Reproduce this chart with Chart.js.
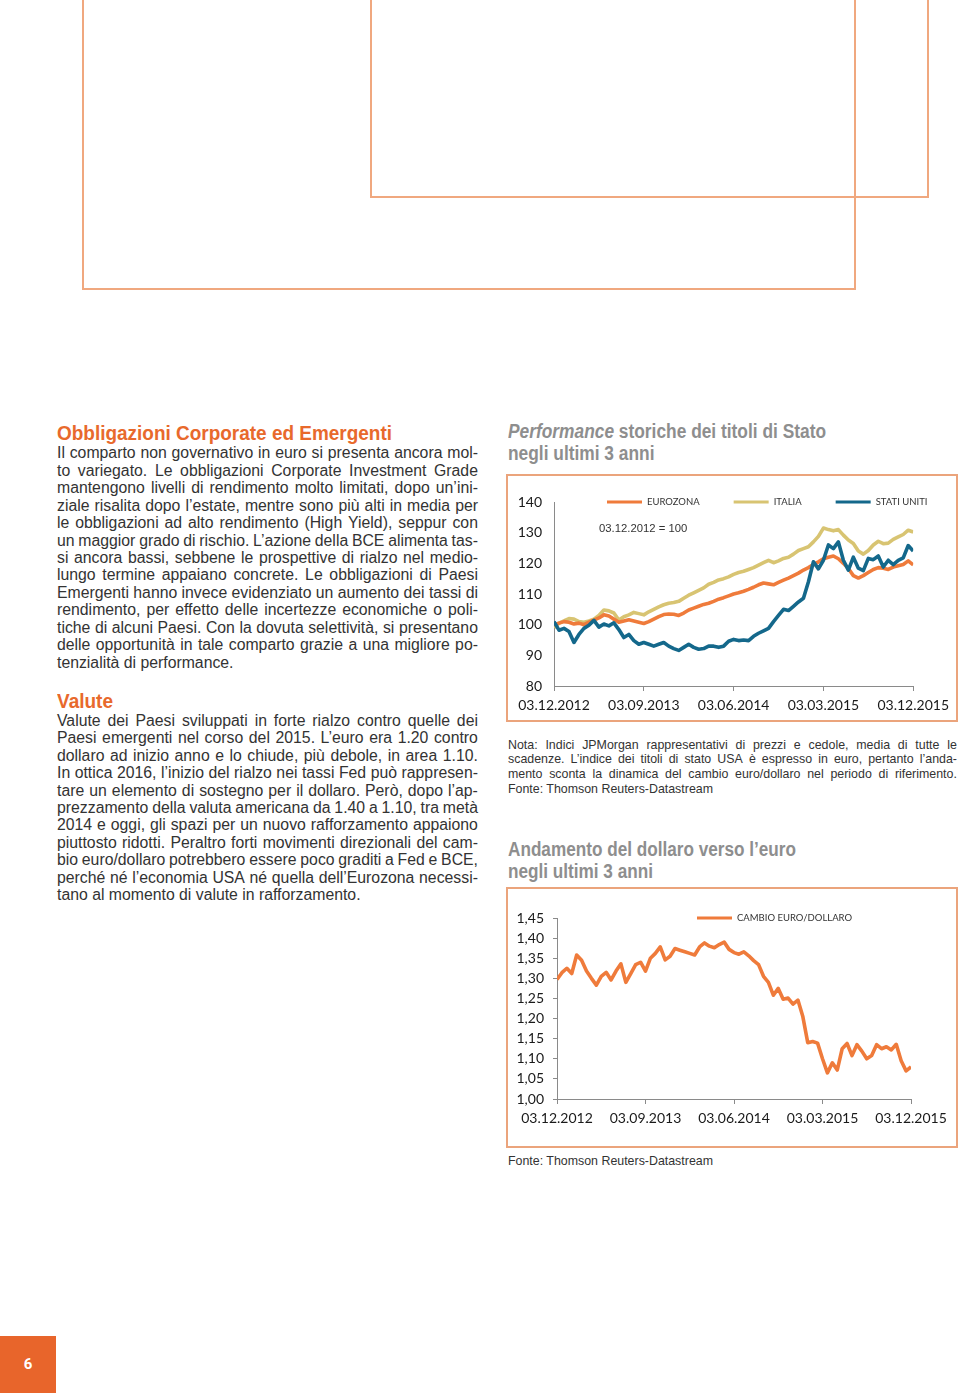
<!DOCTYPE html>
<html lang="it">
<head>
<meta charset="utf-8">
<title>Obbligazioni Corporate ed Emergenti - Valute</title>
<script src="https://cdn.jsdelivr.net/npm/chart.js@4.4.1/dist/chart.umd.min.js"></script>
<style>
  html, body { margin: 0; padding: 0; }
  body {
    width: 960px; height: 1393px; position: relative; overflow: hidden;
    background: #fff; color: #333;
    font-family: "Liberation Sans", Arial, sans-serif;
  }
  .box { position: absolute; border: 2px solid #f0a87f; box-sizing: border-box; }
  .frame { position: absolute; border: 2px solid #eba47c; box-sizing: border-box; }
  .head {
    position: absolute; white-space: nowrap;
    font-family: "Liberation Sans", Arial, sans-serif; font-weight: 700;
    font-size: 19.6px; line-height: 22px;
    transform-origin: 0 50%;
  }
  .orange { color: #e8692c; }
  .gray { color: #8e8e8e; }
  .txt { position: absolute; width: 421px; font-size: 15.8px; line-height: 17.45px; }
  .ln { display: flex; justify-content: space-between; white-space: nowrap; }
  .ln.last { display: block; }
  .note { position: absolute; width: 449px; font-size: 12.4px; line-height: 14.7px; }
  .tag { position: absolute; font-size: 11.3px; color: #333; white-space: nowrap; }
  canvas { position: absolute; }
  .pageno {
    position: absolute; left: 0; top: 1336px; width: 56px; height: 57px;
    background: #e8652b; color: #fff; text-align: center;
    font-family: Roboto, sans-serif; font-weight: 700; font-size: 15px; line-height: 57px;
  }
</style>
</head>
<body>

<div class="box" style="left:82px; top:-10px; width:774px; height:300px;"></div>
<div class="box" style="left:370px; top:-10px; width:559px; height:208px;"></div>

<div class="head orange" data-fit="335" style="left:57px; top:422px;">Obbligazioni Corporate ed Emergenti</div>
<div class="txt" style="left:57px; top:444.3px;">
  <div class="ln">Il comparto non governativo in euro si presenta ancora mol-</div>
  <div class="ln">to variegato. Le obbligazioni Corporate Investment Grade</div>
  <div class="ln">mantengono livelli di rendimento molto limitati, dopo un’ini-</div>
  <div class="ln">ziale risalita dopo l’estate, mentre sono più alti in media per</div>
  <div class="ln">le obbligazioni ad alto rendimento (High Yield), seppur con</div>
  <div class="ln">un maggior grado di rischio. L’azione della BCE alimenta tas-</div>
  <div class="ln">si ancora bassi, sebbene le prospettive di rialzo nel medio-</div>
  <div class="ln">lungo termine appaiano concrete. Le obbligazioni di Paesi</div>
  <div class="ln">Emergenti hanno invece evidenziato un aumento dei tassi di</div>
  <div class="ln">rendimento, per effetto delle incertezze economiche o poli-</div>
  <div class="ln">tiche di alcuni Paesi. Con la dovuta selettività, si presentano</div>
  <div class="ln">delle opportunità in tale comparto grazie a una migliore po-</div>
  <div class="ln last">tenzialità di performance.</div>
</div>

<div class="head orange" data-fit="56" style="left:57px; top:690px;">Valute</div>
<div class="txt" style="left:57px; top:711.7px;">
  <div class="ln">Valute dei Paesi sviluppati in forte rialzo contro quelle dei</div>
  <div class="ln">Paesi emergenti nel corso del 2015. L’euro era 1.20 contro</div>
  <div class="ln">dollaro ad inizio anno e lo chiude, più debole, in area 1.10.</div>
  <div class="ln">In ottica 2016, l’inizio del rialzo nei tassi Fed può rappresen-</div>
  <div class="ln">tare un elemento di sostegno per il dollaro. Però, dopo l’ap-</div>
  <div class="ln">prezzamento della valuta americana da 1.40 a 1.10, tra metà</div>
  <div class="ln">2014 e oggi, gli spazi per un nuovo rafforzamento appaiono</div>
  <div class="ln">piuttosto ridotti. Peraltro forti movimenti direzionali del cam-</div>
  <div class="ln">bio euro/dollaro potrebbero essere poco graditi a Fed e BCE,</div>
  <div class="ln">perché né l’economia USA né quella dell’Eurozona necessi-</div>
  <div class="ln last">tano al momento di valute in rafforzamento.</div>
</div>

<div class="head gray" data-fit="318" style="left:508px; top:420px;"><i>Performance</i> storiche dei titoli di Stato<br>negli ultimi 3 anni</div>
<div class="frame" style="left:506px; top:474px; width:452px; height:248px;"></div>
<canvas id="bondChart" width="446" height="243" style="left:509px; top:477px;"></canvas>
<div class="tag" style="left:599px; top:522px;">03.12.2012 = 100</div>

<div class="note" style="left:508px; top:737.7px;">
  <div class="ln">Nota: Indici JPMorgan rappresentativi di prezzi e cedole, media di tutte le</div>
  <div class="ln">scadenze. L’indice dei titoli di stato USA è espresso in euro, pertanto l’anda-</div>
  <div class="ln">mento sconta la dinamica del cambio euro/dollaro nel periodo di riferimento.</div>
  <div class="ln last">Fonte: Thomson Reuters-Datastream</div>
</div>

<div class="head gray" data-fit="288" style="left:508px; top:838px;">Andamento del dollaro verso l’euro<br>negli ultimi 3 anni</div>
<div class="frame" style="left:506px; top:887px; width:452px; height:261px;"></div>
<canvas id="fxChart" width="446" height="255" style="left:509px; top:890px;"></canvas>
<div class="note" style="left:508px; top:1153.6px;">Fonte: Thomson Reuters-Datastream</div>

<div class="pageno">6</div>

<script>
// date sull'asse x (una ogni 9 mesi); i valori sono letti ogni mezzo mese
const X_TICKS = ['03.12.2012', '03.09.2013', '03.06.2014', '03.03.2015', '03.12.2015'];
const STEPS_PER_TICK = 18;

// indici JPMorgan, 03.12.2012 = 100
const EUROZONA = [
  100.0, 100.5, 101.0, 100.8, 100.2, 100.5, 100.0, 100.8, 101.5, 102.2,
  103.2, 102.8, 101.8, 100.8, 101.2, 101.6, 101.2, 100.8, 100.4, 101.0,
  101.8, 102.6, 103.3, 103.5, 103.4, 103.0, 103.8, 104.8, 105.4, 106.0,
  106.6, 107.0, 107.6, 108.3, 108.8, 109.4, 110.0, 110.4, 110.9, 111.5,
  112.2, 113.0, 113.6, 113.3, 113.0, 113.8, 114.5, 115.2, 116.0, 116.8,
  117.8, 118.6, 119.6, 120.5, 121.5, 122.0, 122.4, 121.5, 120.0, 118.3,
  116.0, 115.2, 116.0, 117.0, 118.0, 118.6, 118.4, 118.0, 118.8, 119.2,
  119.6, 120.8, 119.5
];
const ITALIA = [
  99.0, 100.5, 101.2, 102.0, 101.8, 101.0, 100.8, 101.2, 101.8, 103.0,
  104.8, 104.5, 103.8, 101.5, 102.6, 103.2, 104.0, 103.6, 103.2, 104.2,
  105.0, 105.8, 106.5, 107.0, 107.2, 107.6, 108.6, 109.6, 110.4, 111.2,
  112.0, 113.2, 113.8, 114.6, 115.0, 115.6, 116.4, 117.0, 117.4, 118.0,
  118.6, 119.4, 120.2, 121.0, 120.2, 120.8, 121.6, 122.0, 123.0, 124.2,
  124.8, 125.4, 127.0, 128.8, 131.5, 131.0, 130.6, 131.0, 129.2, 127.6,
  126.5, 124.0, 123.0, 124.2, 126.0, 127.2, 126.4, 126.6, 127.8, 128.6,
  129.4, 130.8, 130.2
];
const STATI_UNITI = [
  101.0, 98.2, 98.8, 97.8, 94.2, 96.8, 98.8, 99.8, 101.4, 99.2,
  100.2, 99.6, 100.6, 98.4, 95.8, 96.8, 94.8, 93.6, 94.2, 93.6,
  93.0, 93.6, 94.2, 93.0, 92.2, 91.6, 92.6, 93.6, 92.6, 92.0,
  92.2, 93.0, 93.0, 92.6, 93.0, 94.6, 95.2, 94.8, 95.0, 94.8,
  96.2, 97.2, 98.0, 98.8, 101.0, 103.0, 105.0, 104.6, 106.0, 107.4,
  108.6, 114.0, 120.5, 118.2, 121.0, 126.0, 124.8, 127.0, 121.0, 117.8,
  122.0, 118.4, 117.6, 121.6, 121.2, 122.4, 118.8, 121.0, 119.6, 121.0,
  121.8, 125.8, 124.0
];

// cambio euro/dollaro
const CAMBIO = [
  1.297, 1.314, 1.325, 1.312, 1.358, 1.345, 1.318, 1.300, 1.283, 1.305,
  1.315, 1.296, 1.318, 1.336, 1.290, 1.312, 1.334, 1.340, 1.318, 1.350,
  1.362, 1.378, 1.346, 1.355, 1.374, 1.370, 1.366, 1.362, 1.358, 1.378,
  1.388, 1.380, 1.376, 1.384, 1.390, 1.372, 1.364, 1.360, 1.366, 1.356,
  1.344, 1.334, 1.305, 1.290, 1.258, 1.275, 1.248, 1.251, 1.236, 1.246,
  1.205, 1.140, 1.143, 1.139, 1.100, 1.065, 1.090, 1.072, 1.125, 1.138,
  1.108, 1.135, 1.119, 1.100, 1.108, 1.135, 1.125, 1.130, 1.122, 1.136,
  1.095, 1.070, 1.080
];

// testo giustificato riga per riga
document.querySelectorAll('.ln:not(.last)').forEach(el => {
  const words = el.textContent.trim().split(/\s+/);
  el.innerHTML = words.map(w => '<span>' + w + '</span>').join('');
});

// titoli condensati alla larghezza dell'originale
document.querySelectorAll('[data-fit]').forEach(el => {
  const w = el.getBoundingClientRect().width;
  el.style.transform = 'scaleX(' + (el.dataset.fit / w) + ')';
});

const AXIS = '#8a8a8a';
const TICK_FONT = { family: 'Lato, sans-serif', size: 14 };

// legenda con tratto orizzontale, disegnata all'altezza del bordo superiore del grafico
const lineLegend = {
  id: 'lineLegend',
  afterDraw(chart, args, opts) {
    const { ctx, chartArea } = chart;
    const y = chartArea.top;
    let x = opts.x;
    ctx.save();
    ctx.font = opts.font;
    ctx.textBaseline = 'middle';
    chart.data.datasets.forEach(ds => {
      ctx.strokeStyle = ds.borderColor;
      ctx.lineWidth = 3;
      ctx.beginPath();
      ctx.moveTo(x, y);
      ctx.lineTo(x + opts.lineLen, y);
      ctx.stroke();
      ctx.fillStyle = '#333';
      ctx.fillText(ds.label, x + opts.lineLen + 5, y);
      x += opts.lineLen + 5 + ctx.measureText(ds.label).width + opts.gap;
    });
    ctx.restore();
  }
};

function series(label, values, color, order) {
  return {
    label,
    data: values.map((v, i) => ({ x: i, y: v })),
    borderColor: color,
    borderWidth: 3.6,
    pointRadius: 0,
    tension: 0,
    borderJoinStyle: 'round',
    order,
  };
}

function xAxis(height) {
  return {
    type: 'linear',
    min: 0,
    max: (X_TICKS.length - 1) * STEPS_PER_TICK,
    ticks: {
      stepSize: STEPS_PER_TICK,
      callback: v => X_TICKS[v / STEPS_PER_TICK],
      font: TICK_FONT,
      color: '#1a1a1a',
      padding: 6,
      maxRotation: 0,
      autoSkip: false,
    },
    grid: { drawOnChartArea: false, tickLength: 5, color: AXIS },
    border: { color: AXIS, width: 1 },
    afterFit: s => { s.height = height; },
  };
}

new Chart(document.getElementById('bondChart'), {
  type: 'line',
  data: {
    datasets: [
      series('EUROZONA', EUROZONA, '#ef7b3b', 1),
      series('ITALIA', ITALIA, '#d8c472', 2),
      series('STATI UNITI', STATI_UNITI, '#14688b', 0),
    ],
  },
  options: {
    responsive: false,
    animation: false,
    layout: { padding: { top: 25, right: 40, left: 0, bottom: 0 } },
    plugins: {
      legend: { display: false },
      tooltip: { enabled: false },
      lineLegend: { x: 98, lineLen: 35, gap: 34, font: '9.5px Lato, sans-serif' },
    },
    scales: {
      x: xAxis(34),
      y: {
        min: 80,
        max: 140,
        ticks: { stepSize: 10, font: TICK_FONT, color: '#1a1a1a', padding: 12 },
        grid: { drawOnChartArea: false, tickLength: 0 },
        border: { color: AXIS, width: 1 },
        afterFit: s => { s.width = 45; },
      },
    },
  },
  plugins: [lineLegend],
});

new Chart(document.getElementById('fxChart'), {
  type: 'line',
  data: {
    datasets: [series('CAMBIO EURO/DOLLARO', CAMBIO, '#ef7b3b', 0)],
  },
  options: {
    responsive: false,
    animation: false,
    layout: { padding: { top: 28, right: 44, left: 0, bottom: 0 } },
    plugins: {
      legend: { display: false },
      tooltip: { enabled: false },
      lineLegend: { x: 188, lineLen: 35, gap: 30, font: '9.5px Lato, sans-serif' },
    },
    scales: {
      x: xAxis(46),
      y: {
        min: 1.0,
        max: 1.45,
        ticks: {
          stepSize: 0.05,
          font: TICK_FONT,
          color: '#1a1a1a',
          padding: 9,
          callback: v => v.toFixed(2).replace('.', ','),
        },
        grid: { drawOnChartArea: false, tickLength: 4, color: AXIS },
        border: { color: AXIS, width: 1 },
        afterFit: s => { s.width = 48; },
      },
    },
  },
  plugins: [lineLegend],
});
</script>
</body>
</html>
